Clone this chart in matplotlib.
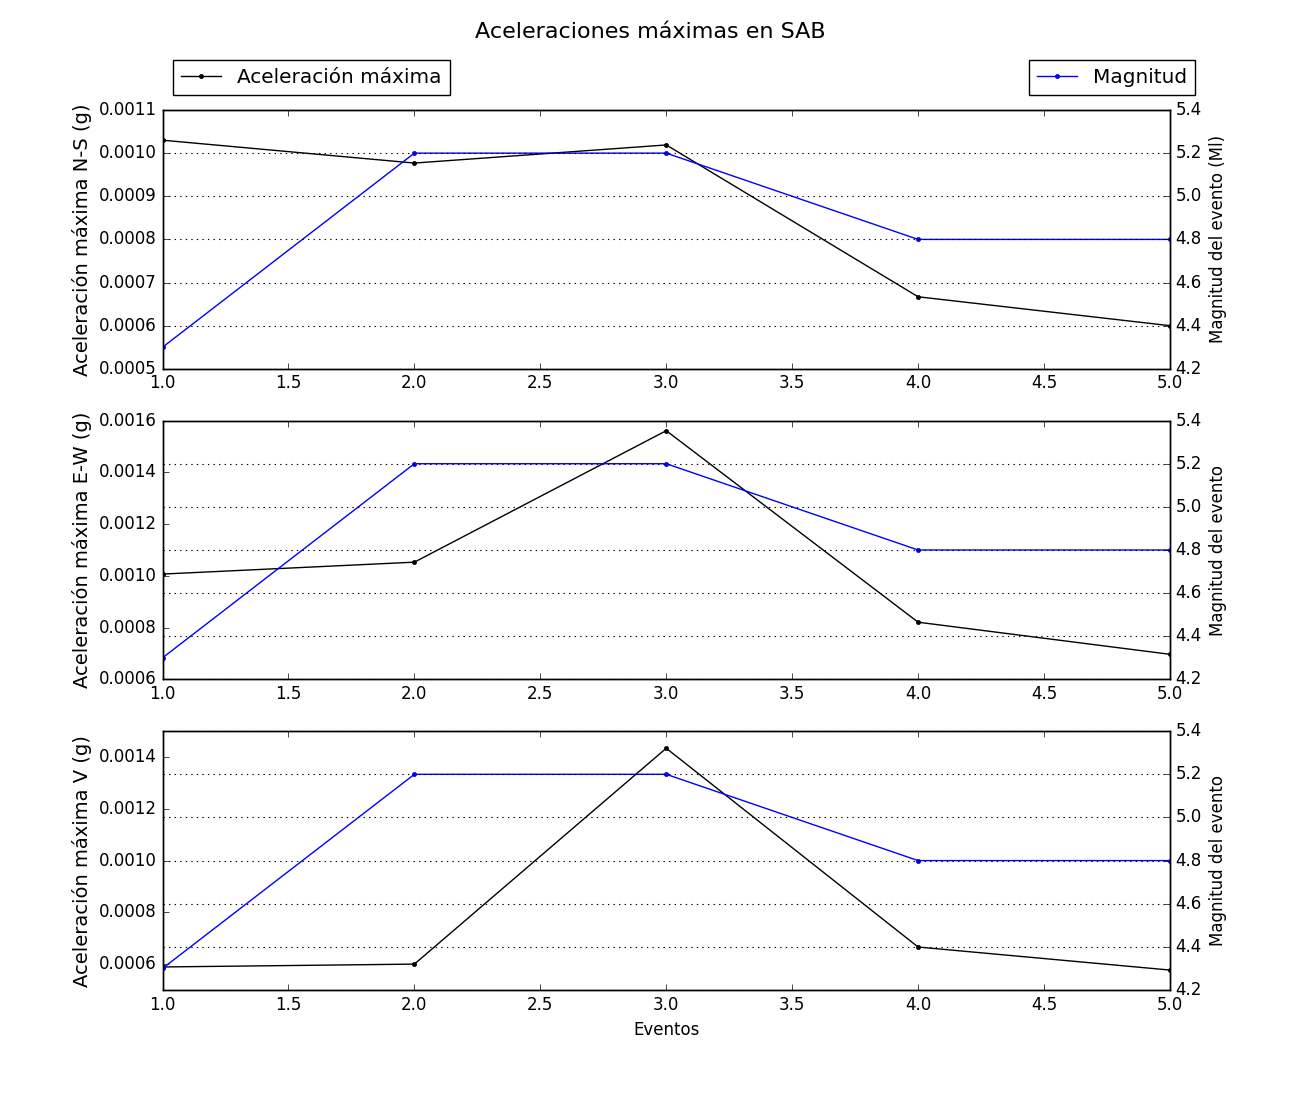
"""
Aceleraciones máximas por evento en la estación SAB, con la magnitud del evento en eje secundario.
"""

import matplotlib
matplotlib.use("Agg")
import matplotlib.pyplot as plt

# Datos
eventos = [1, 2, 3, 4, 5]
magnitud = [4.3, 5.2, 5.2, 4.8, 4.8]
acel_ns = [0.00103, 0.000977, 0.001019, 0.000667, 0.000600]
acel_ew = [0.001007, 0.001053, 0.001561, 0.000821, 0.000697]
acel_v = [0.000589, 0.000600, 0.001434, 0.000666, 0.000577]

componentes = ["N-S", "E-W", "V"]
series = [acel_ns, acel_ew, acel_v]
ylims = [(0.0005, 0.0011), (0.0006, 0.0016), (0.0005, 0.0015)]
yticks = [
    [0.0005, 0.0006, 0.0007, 0.0008, 0.0009, 0.0010, 0.0011],
    [0.0006, 0.0008, 0.0010, 0.0012, 0.0014, 0.0016],
    [0.0006, 0.0008, 0.0010, 0.0012, 0.0014],
]
mag_labels = ["Magnitud del evento (Ml)", "Magnitud del evento", "Magnitud del evento"]

plt.style.use("classic")
plt.rcParams["font.family"] = ["DejaVu Sans"]
plt.rcParams["figure.facecolor"] = "white"
plt.rcParams["savefig.facecolor"] = "white"

fig, axes = plt.subplots(3, 1, figsize=(13, 11), dpi=100)
fig.subplots_adjust(left=0.125, right=0.9, top=0.9, bottom=0.1, hspace=0.2)

for i, ax in enumerate(axes):
    l1, = ax.plot(eventos, series[i], color="k", marker="o", markersize=3,
                  markeredgecolor="k", linewidth=1, label="Aceleración máxima")
    ax.set_xlim(1, 5)
    ax.set_ylim(*ylims[i])
    ax.set_yticks(yticks[i])
    ax.set_ylabel(f"Aceleración máxima {componentes[i]} (g)", fontsize=14)
    ax.tick_params(labelsize=12)

    ax2 = ax.twinx()
    l2, = ax2.plot(eventos, magnitud, color="b", marker="o", markersize=3,
                   markeredgecolor="b", linewidth=1, label="Magnitud")
    ax2.set_ylim(4.2, 5.4)
    ax2.set_yticks([4.2, 4.4, 4.6, 4.8, 5.0, 5.2, 5.4])
    ax2.set_ylabel(mag_labels[i], fontsize=12)
    ax2.tick_params(labelsize=12)
    ax2.yaxis.grid(True, linestyle=":", color="k", linewidth=0.8)
    ax2.set_xlim(1, 5)

    if i == 0:
        fig.legend([l1], ["Aceleración máxima"], loc="lower left",
                   bbox_to_anchor=(173 / 1300, 1 - 95 / 1100),
                   bbox_transform=fig.transFigure, borderaxespad=0,
                   numpoints=1, fontsize=14.4, fancybox=False)
        fig.legend([l2], ["Magnitud"], loc="lower right",
                   bbox_to_anchor=(1195 / 1300, 1 - 95 / 1100),
                   bbox_transform=fig.transFigure, borderaxespad=0,
                   numpoints=1, fontsize=14.4, fancybox=False)

axes[-1].set_xlabel("Eventos", fontsize=12)
fig.suptitle("Aceleraciones máximas en SAB", fontsize=16, y=0.98)

fig.savefig("out.png", dpi=100)
